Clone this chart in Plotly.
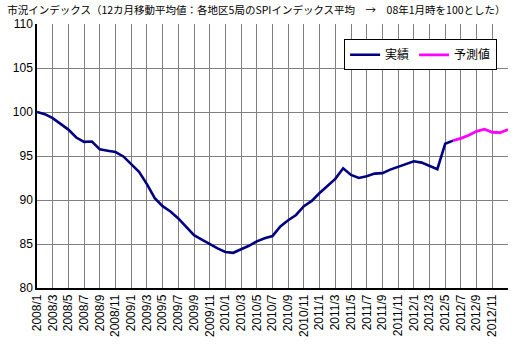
import plotly.graph_objects as go

# categories: 2008/1 .. 2013/1
years = [2008, 2009, 2010, 2011, 2012, 2013]
months = [f"{y}/{m}" for y in years for m in range(1, 13)][:61]

actual = [100.0, 99.75, 99.3, 98.7, 98.0, 97.1, 96.6, 96.65, 95.75, 95.6,
          95.45, 94.95, 94.1, 93.2, 91.8, 90.2, 89.3, 88.7, 87.9, 86.9,
          86.0, 85.5, 84.95, 84.5, 84.1, 84.0, 84.4, 84.8, 85.3, 85.65,
          85.9, 87.0, 87.7, 88.3, 89.3, 89.9, 90.8, 91.65, 92.4, 93.6,
          92.85, 92.5, 92.7, 93.0, 93.05, 93.45, 93.75, 94.05, 94.4, 94.25,
          93.85, 93.5, 96.4, 96.75]
forecast = [96.75, 97.0, 97.35, 97.8, 98.05, 97.7, 97.65, 98.0]

tick_vals = months[0:61:2]
tick_text = [t if t != "2013/1" else "" for t in tick_vals]
y_ticks = [80, 85, 90, 95, 100, 105, 110]

fig = go.Figure()
fig.add_trace(go.Scatter(x=months[:len(actual)], y=actual, mode="lines", name="実績",
                         line=dict(color="#000080", width=2.6)))
fig.add_trace(go.Scatter(x=months[len(actual) - 1:len(actual) - 1 + len(forecast)], y=forecast,
                         mode="lines", name="予測値",
                         line=dict(color="#FF00FF", width=2.8)))

fig.update_layout(
    width=518, height=348,
    margin=dict(l=37, r=10, t=24, b=60),
    paper_bgcolor="white", plot_bgcolor="white",
    font=dict(family="Liberation Sans, Arial, sans-serif", size=12, color="black"),
    title=dict(text="市況インデックス（12カ月移動平均値：各地区5局のSPIインデックス平均　→　08年1月時を100とした）",
               x=0.014, xanchor="left", xref="container",
               y=1 - 10.5 / 348, yanchor="middle", yref="container",
               font=dict(family="Noto Sans CJK JP", size=10.5, color="black")),
    legend=dict(orientation="h", x=0.652, xanchor="left", y=0.942, yanchor="top",
                bgcolor="white", bordercolor="black", borderwidth=1,
                font=dict(family="Noto Sans CJK JP", size=12, color="black"),
                itemwidth=30, tracegroupgap=0),
    showlegend=True,
)
fig.update_xaxes(type="category", categoryorder="array", categoryarray=months,
                 range=[0, 60], tickmode="array", tickvals=tick_vals, ticktext=tick_text,
                 tickangle=-90, showgrid=True, gridcolor="#808080", gridwidth=1,
                 showline=True, linecolor="black", linewidth=1.5, ticks="", zeroline=False,
                 tickfont=dict(family="Liberation Sans, Arial", size=12))
fig.update_yaxes(range=[80, 110], tickmode="array", tickvals=y_ticks,
                 showgrid=True, gridcolor="#808080", gridwidth=1,
                 showline=True, linecolor="black", linewidth=1.5, ticks="", zeroline=False,
                 tickfont=dict(family="Liberation Sans, Arial", size=12))

fig.write_html("out.html")
